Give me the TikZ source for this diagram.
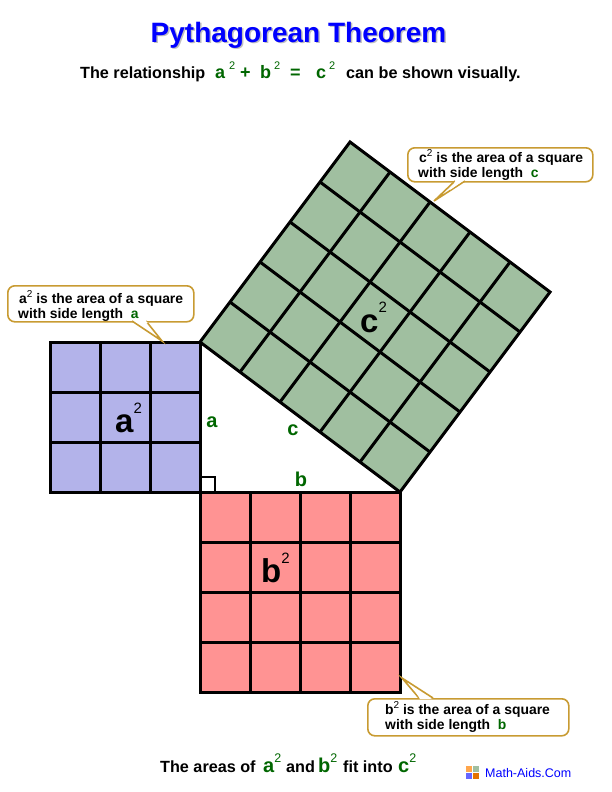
\documentclass[tikz,border=0pt]{standalone}
\usepackage{fontspec}
\usepackage{xcolor}
\setmainfont{Liberation Sans}
\usetikzlibrary{positioning}
\definecolor{sqa}{HTML}{B3B3EA}
\definecolor{sqb}{HTML}{FF9393}
\definecolor{sqc}{HTML}{A0BFA0}
\definecolor{lgreen}{HTML}{006600}
\definecolor{gold}{HTML}{C89B32}
\newcommand{\sz}[1]{\fontsize{#1}{#1}\selectfont}
\newcommand{\two}[2][10]{\raisebox{#2}{\sz{#1}\mdseries 2}}

\begin{document}
\begin{tikzpicture}[
    x=1pt, y=-1pt,
    sqline/.style={line width=3pt, line cap=rect},
    gridline/.style={line width=3pt},
    txt/.style={anchor=base west, inner sep=0pt, font=\sz{16.2}\bfseries},
    gtxt/.style={anchor=base west, inner sep=0pt, text=lgreen, font=\sz{20}\bfseries},
    side/.style={anchor=base, inner sep=0pt, text=lgreen, font=\sz{20}\bfseries},
    bigsq/.style={anchor=base west, inner sep=0pt, font=\sz{33}\bfseries},
    note/.style={draw=gold, line width=1.6pt, rounded corners=7pt, fill=white, anchor=north west, inner sep=0pt},
    notetxt/.style={anchor=base west, inner sep=0pt, font=\sz{13.9}\bfseries},
    tail/.style={draw=gold, line width=1.6pt, fill=white},
    tile/.style={minimum size=6pt, inner sep=0pt}
]
\useasboundingbox (0,0) rectangle (612,792);

% Heading
\node[anchor=base, inner sep=0pt, text=black!25, font=\sz{28}\bfseries] (titleshadow) at (300,44) {Pythagorean Theorem};
\node[anchor=base, inner sep=0pt, text=blue, font=\sz{28}\bfseries] (title) at (298.5,42.5) {Pythagorean Theorem};
\node[txt] (rel) at (80,78) {The relationship};
\node[gtxt, font=\sz{18}\bfseries] (rela) at (215,78) {a};
\node[gtxt] (relatwo) at (229,78) {\two[11]{9pt}};
\node[gtxt, font=\sz{18}\bfseries] (relplus) at (240,78) {+};
\node[gtxt, font=\sz{18}\bfseries] (relb) at (260,78) {b};
\node[gtxt] (relbtwo) at (274,78) {\two[11]{9pt}};
\node[gtxt, font=\sz{18}\bfseries] (releq) at (290,78) {=};
\node[gtxt, font=\sz{18}\bfseries] (relc) at (316,78) {c};
\node[gtxt] (relctwo) at (329,78) {\two[11]{9pt}};
\node[txt] (relend) at (346,78) {can be shown visually.};

% Square a
\fill[sqa] (50,342) rectangle (200,492);
\foreach \i in {1,2} {
  \draw[gridline] (50+50*\i,342) -- (50+50*\i,492);
  \draw[gridline] (50,342+50*\i) -- (200,342+50*\i);
}
\draw[sqline] (50,342) rectangle (200,492);

% Square b
\fill[sqb] (200,492) rectangle (400,692);
\foreach \i in {1,2,3} {
  \draw[gridline] (200+50*\i,492) -- (200+50*\i,692);
  \draw[gridline] (200,492+50*\i) -- (400,492+50*\i);
}
\draw[sqline] (200,492) rectangle (400,692);

% Square c
\fill[sqc] (200,342) -- (400,492) -- (550,292) -- (350,142) -- cycle;
\foreach \i in {1,2,3,4} {
  \draw[gridline] (200+40*\i,342+30*\i) -- ++(150,-200);
  \draw[gridline] (200+30*\i,342-40*\i) -- ++(200,150);
}
\draw[sqline, line join=miter] (200,342) -- (400,492) -- (550,292) -- (350,142) -- cycle;

% Right angle
\draw[line width=1.6pt] (200,477) -- (215,477) -- (215,492);

% Labels on the figure
\node[bigsq] (biga) at (115,432) {a\two[15]{19pt}};
\node[bigsq] (bigb) at (261,582) {b\two[15]{19pt}};
\node[bigsq] (bigc) at (360,332) {c\two[15]{20pt}};
\node[side] (sidea) at (212,427) {a};
\node[side] (sidec) at (293,435) {c};
\node[side] (sideb) at (301,486) {b};

% Note a
\node[note, minimum width=186pt, minimum height=36pt] (notea) at (7,285) {};
\coordinate (tipa) at (162,341);
\draw[tail] (132,321) -- (tipa) -- (146,321);
\fill[white] (133.5,320) -- (145,320) -- (148,323) -- (137,323) -- cycle;
\node[notetxt] (notea1) at (19,303) {a\two{6pt} is the area of a square};
\node[notetxt] (notea2) at (18,318) {with side length\ \ \textcolor{lgreen}{a}};

% Note c
\node[note, minimum width=185pt, minimum height=34pt] (notec) at (407,147) {};
\coordinate (tipc) at (434,201);
\draw[tail] (455,181) -- (tipc) -- (465,181);
\fill[white] (456,180) -- (464,180) -- (450,190) -- cycle;
\node[notetxt] (notec1) at (419,162) {c\two{6pt} is the area of a square};
\node[notetxt] (notec2) at (418,177) {with side length\ \ \textcolor{lgreen}{c}};

% Note b
\node[note, minimum width=201pt, minimum height=37pt] (noteb) at (367,698) {};
\coordinate (tipb) at (402,678);
\draw[tail] (419,698) -- (tipb) -- (433,698);
\fill[white] (420,699) -- (432,699) -- (414,689) -- cycle;
\node[notetxt] (noteb1) at (385,714) {b\two{6pt} is the area of a square};
\node[notetxt] (noteb2) at (385,729) {with side length\ \ \textcolor{lgreen}{b}};

% Footer
\node[txt] (foot1) at (160,772) {The areas of};
\node[gtxt] (foota) at (263,772) {a\two[12.5]{10pt}};
\node[txt] (foot2) at (286,772) {and};
\node[gtxt] (footb) at (318,772) {b\two[12.5]{10pt}};
\node[txt] (foot3) at (343,772) {fit into};
\node[gtxt] (footc) at (398,772) {c\two[12.5]{10pt}};

% Logo
\node[tile, fill=orange!70] (tile1) at (468.5,769) {};
\node[tile, fill=sqc] (tile2) at (476,769) {};
\node[tile, fill=blue!60] (tile3) at (468.5,776) {};
\node[tile, fill=orange!90!black] (tile4) at (476,776) {};
\node[anchor=base west, inner sep=0pt, text=blue, font=\sz{12.5}] (logo) at (485,777) {Math-Aids.Com};
\end{tikzpicture}
\end{document}
